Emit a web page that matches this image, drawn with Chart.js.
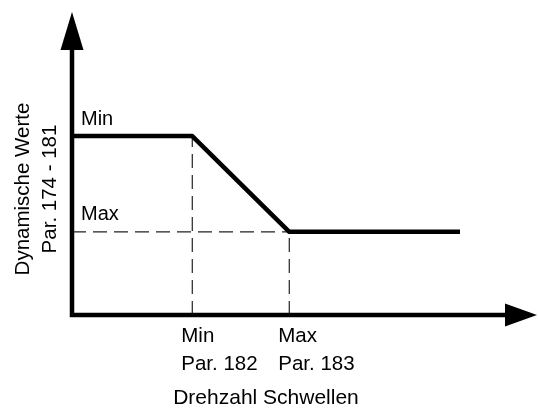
<!DOCTYPE html>
<html>
<head>
<meta charset="utf-8">
<script src="https://cdn.jsdelivr.net/npm/chart.js@4.4.0/dist/chart.umd.min.js"></script>
<style>
  html, body { margin: 0; padding: 0; background: #fff; }
  #wrap { width: 538px; height: 408px; }
</style>
</head>
<body>
<div id="wrap"><canvas id="chart"></canvas></div>
<script>
// Drehzahl-Schwellen (x) und dynamische Werte (y), in Achseneinheiten 0..10
const xThresholds = [3.1, 5.6];
const xTickLabels = [['Min', 'Par. 182'], ['Max', 'Par. 183']];
const yLevels = [7.1, 3.3];
const yTickLabels = ['Min', 'Max'];
const curveX = [0, 3.1, 5.6, 10];
const curveY = [7.1, 7.1, 3.3, 3.3];

Chart.defaults.font.family = '"Liberation Sans", Arial, sans-serif';
Chart.defaults.font.size = 20;
Chart.defaults.color = '#000';

const curve = curveX.map((x, i) => ({ x: x, y: curveY[i] }));
const dashed = {
    showLine: true,
    borderColor: '#222',
    borderWidth: 1.2,
    borderDash: [14, 7],
    pointRadius: 0
};

// Achsen mit Pfeilspitzen
const arrowAxes = {
    id: 'arrowAxes',
    afterDraw(chart) {
        const { ctx, chartArea: a } = chart;
        const yTip = a.top - 51, xTip = a.right + 77;
        ctx.save();
        ctx.strokeStyle = '#000';
        ctx.fillStyle = '#000';
        ctx.lineWidth = 4.5;
        ctx.beginPath();
        ctx.moveTo(a.left, yTip + 20);
        ctx.lineTo(a.left, a.bottom);
        ctx.lineTo(xTip - 20, a.bottom);
        ctx.stroke();
        ctx.beginPath();
        ctx.moveTo(a.left, yTip);
        ctx.lineTo(a.left - 11.5, yTip + 38);
        ctx.lineTo(a.left + 11.5, yTip + 38);
        ctx.closePath();
        ctx.fill();
        ctx.beginPath();
        ctx.moveTo(xTip, a.bottom);
        ctx.lineTo(xTip - 32, a.bottom - 11.5);
        ctx.lineTo(xTip - 32, a.bottom + 11.5);
        ctx.closePath();
        ctx.fill();
        ctx.restore();
    }
};

new Chart(document.getElementById('chart'), {
    type: 'scatter',
    data: {
        datasets: [
            {
                data: curve,
                showLine: true,
                borderColor: '#000',
                borderWidth: 4.5,
                borderCapStyle: 'round',
                borderJoinStyle: 'round',
                pointRadius: 0
            },
            Object.assign({ data: [{ x: 0, y: yLevels[1] }, { x: xThresholds[1], y: yLevels[1] }] }, dashed),
            Object.assign({ data: [{ x: xThresholds[0], y: 0 }, { x: xThresholds[0], y: yLevels[0] }] }, dashed),
            Object.assign({ data: [{ x: xThresholds[1], y: 0 }, { x: xThresholds[1], y: yLevels[1] }] }, dashed)
        ]
    },
    options: {
        responsive: true,
        maintainAspectRatio: false,
        animation: false,
        layout: { padding: { top: 63, right: 78, left: 0, bottom: 0 } },
        plugins: {
            legend: { display: false },
            tooltip: { enabled: false }
        },
        scales: {
            x: {
                type: 'linear',
                min: 0,
                max: 10,
                grid: { display: false, drawTicks: false },
                border: { display: false },
                afterBuildTicks: scale => { scale.ticks = xThresholds.map(v => ({ value: v })); },
                afterFit: scale => { scale.height = 93; },
                ticks: {
                    align: 'start',
                    labelOffset: -11,
                    padding: 8,
                    font: { size: 20.5, lineHeight: 1.33 },
                    callback: (value) => xTickLabels[xThresholds.indexOf(value)]
                },
                title: {
                    display: true,
                    text: 'Drehzahl Schwellen',
                    font: { size: 21, lineHeight: 1 },
                    padding: { top: 0, bottom: -0.5 }
                }
            },
            y: {
                type: 'linear',
                min: 0,
                max: 10,
                grid: { display: false, drawTicks: false },
                border: { display: false },
                afterBuildTicks: scale => { scale.ticks = yLevels.map(v => ({ value: v })); },
                afterFit: scale => { scale.width = 72; },
                ticks: {
                    mirror: true,
                    padding: 9,
                    labelOffset: -17,
                    font: { size: 20 },
                    callback: (value) => yTickLabels[yLevels.indexOf(value)]
                },
                title: {
                    display: true,
                    text: ['Dynamische Werte', 'Par. 174 - 181'],
                    font: { size: 20.5, lineHeight: 1.33 },
                    padding: { top: 9.5, bottom: 0 }
                }
            }
        }
    },
    plugins: [arrowAxes]
});
</script>
</body>
</html>
